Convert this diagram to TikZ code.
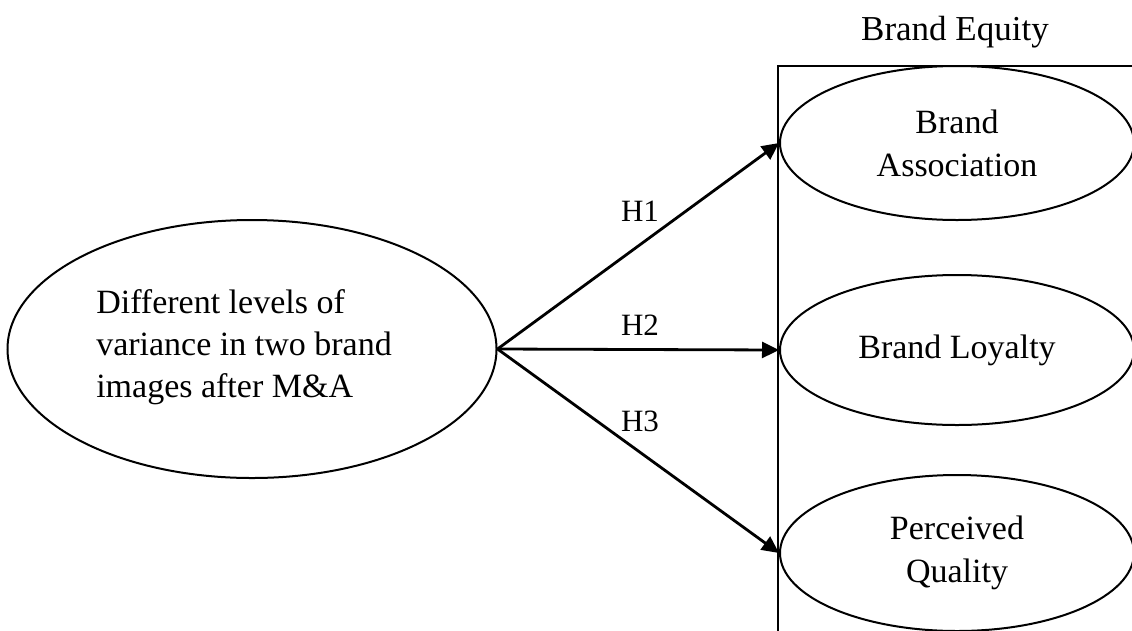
\documentclass[tikz,border=0pt]{standalone}
\usepackage{fontspec}
\setmainfont{Liberation Serif}
\usetikzlibrary{shapes.geometric,arrows.meta}
\begin{document}
\begin{tikzpicture}[x=1pt,y=-1pt,
  oval/.style={draw,line width=2pt,ellipse,inner sep=0pt,align=center,
    font=\fontsize{34}{43}\selectfont},
  link/.style={line width=2.8pt,-{Triangle[length=17pt,width=16pt]}},
  hlabel/.style={font=\fontsize{31}{36}\selectfont},
  title/.style={font=\fontsize{35}{42}\selectfont}]
\useasboundingbox (0,0) rectangle (1132,630);
\clip (0,0) rectangle (1132,630);
\fill[white] (0,0) rectangle (1132,630);
% frame holding the brand-equity dimensions
\draw[line width=2pt] (778,660) -- (778,66) -- (1160,66);
\node[title] (eq) at (955,32) {Brand Equity};
% construct ellipses
\node[oval,minimum width=489pt,minimum height=258pt] (src) at (252,349) {};
\node[font=\fontsize{34}{42}\selectfont,align=left,inner sep=0pt] (srctext) at (244,347)
  {Different levels of\\variance in two brand\\images after M\&A};
\node[oval,minimum width=354pt,minimum height=154pt] (ba) at (957,143) {Brand\\Association};
\node[oval,minimum width=354pt,minimum height=150pt] (bl) at (957,350) {Brand Loyalty};
\node[oval,minimum width=354pt,minimum height=156pt] (pq) at (957,553) {Perceived\\Quality};
% hypothesised paths
\draw[link] (src.east) -- (ba.west);
\draw[link] (src.east) -- (bl.west);
\draw[link] (src.east) -- (pq.west);
\node[hlabel] (h1) at (640,211) {H1};
\node[hlabel] (h2) at (640,325) {H2};
\node[hlabel] (h3) at (640,421) {H3};
\end{tikzpicture}
\end{document}
